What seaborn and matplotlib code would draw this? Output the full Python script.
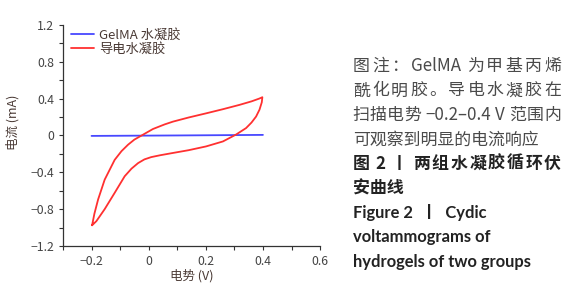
import matplotlib
matplotlib.use("Agg")
import matplotlib.pyplot as plt
import seaborn as sns
import pandas as pd
from matplotlib.ticker import MultipleLocator, FuncFormatter

# blue: GelMA hydrogel, flat line
gel_x = [-0.2, 0.1, 0.4]
gel_y = [-0.005, 0.0, 0.006]

# red: conductive hydrogel CV loop (forward branch, then back)
cond_x = [-0.198, -0.19, -0.177, -0.154, -0.119, -0.095, -0.072, -0.05, -0.02, 0.015,
          0.056, 0.085, 0.14, 0.201, 0.26, 0.318, 0.36, 0.387, 0.398,
          0.396, 0.388, 0.376, 0.36, 0.341, 0.306, 0.26, 0.201, 0.14, 0.085, 0.04,
          0.009, -0.015, -0.037, -0.06, -0.084, -0.119, -0.154, -0.183, -0.198]
cond_y = [-0.975, -0.85, -0.695, -0.48, -0.265, -0.17, -0.10, -0.045, 0.008, 0.07,
          0.12, 0.15, 0.195, 0.24, 0.285, 0.332, 0.37, 0.40, 0.415,
          0.36, 0.28, 0.205, 0.14, 0.08, 0.01, -0.065, -0.119, -0.16, -0.19, -0.215,
          -0.235, -0.26, -0.30, -0.36, -0.443, -0.623, -0.80, -0.93, -0.975]

labels = ["GelMA 水凝胶", "导电水凝胶"]
colors = ["#4848ff", "#ff3030"]

# caption lines: text, weight, justified?
caption = [
    ("图注：GelMA 为甲基丙烯", "normal", True),
    ("酰化明胶。导电水凝胶在", "normal", True),
    ("扫描电势 −0.2–0.4 V 范围内", "normal", True),
    ("可观察到明显的电流响应", "normal", False),
    ("图 2 丨 两组水凝胶循环伏", "bold", True),
    ("安曲线", "bold", False),
    ("Figure 2  丨  Cydic", "bold", False),
    ("voltammograms of", "bold", False),
    ("hydrogels of two groups", "bold", False),
]

sns.set_style("ticks")
plt.rcParams['font.family'] = ['Noto Sans CJK SC', 'DejaVu Sans']
plt.rcParams['axes.unicode_minus'] = True

df = pd.concat([
    pd.DataFrame({"x": gel_x, "y": gel_y, "s": labels[0]}),
    pd.DataFrame({"x": cond_x, "y": cond_y, "s": labels[1]}),
])

fig = plt.figure(figsize=(5.83, 3.0), dpi=100)
ax = fig.add_axes([0.108, 0.18, 0.441, 0.737])
sns.lineplot(data=df, x="x", y="y", hue="s", palette=colors, sort=False,
             estimator=None, linewidth=1.3, ax=ax)

ax.set_xlim(-0.3, 0.6)
ax.set_ylim(-1.2, 1.2)
ax.xaxis.set_major_locator(MultipleLocator(0.2))
ax.xaxis.set_minor_locator(MultipleLocator(0.1))
ax.yaxis.set_major_locator(MultipleLocator(0.4))
ax.yaxis.set_minor_locator(MultipleLocator(0.2))


def fmt(v, pos):
    if abs(v) < 1e-9:
        return "0"
    return f"{v:.1f}".replace("-", "−")


ax.xaxis.set_major_formatter(FuncFormatter(fmt))
ax.yaxis.set_major_formatter(FuncFormatter(fmt))
ax.tick_params(which="both", direction="out", length=3, width=0.8, colors="#333333",
               labelsize=8.8, labelcolor="#444444")
for s in ["top", "right"]:
    ax.spines[s].set_visible(False)
for s in ["left", "bottom"]:
    ax.spines[s].set_color("#333333")
    ax.spines[s].set_linewidth(0.9)

ax.set_xlabel("电势 (V)", fontsize=9, color="#4a3a35", labelpad=1)
ax.set_ylabel("电流 (mA)", fontsize=9, color="#4a3a35")
ax.yaxis.set_label_coords(-0.17, 0.56)

leg = ax.legend(loc="upper left", bbox_to_anchor=(0.0, 1.02), frameon=False,
                fontsize=9.5, handlelength=1.75, handletextpad=0.4,
                labelspacing=0.1, borderaxespad=0.2)
for t in leg.get_texts():
    t.set_color("#4a3a35")

# caption block, CJK lines justified to the same right edge
renderer = fig.canvas.get_renderer()
x_left, x_right = 0.605, 0.962
y0 = 0.78
step = 0.0815
cap_size = 12.2


def tokens(s):
    # (token, has_space_before)
    out, buf, sp = [], "", False
    for ch in s:
        if ch == " ":
            if buf:
                out.append((buf, sp))
                buf = ""
            sp = True
        elif ord(ch) > 0x2e80:
            if buf:
                out.append((buf, sp))
                buf, sp = "", False
            out.append((ch, sp))
            sp = False
        else:
            buf += ch
    if buf:
        out.append((buf, sp))
    return out


for i, (line, w, just) in enumerate(caption):
    col = "#4a4a4a" if w == "normal" else "#222222"
    y = y0 - i * step
    if w == "bold" and not any(ord(c) > 0x2e80 for c in line.replace("丨", "")):
        fam = ['Lato', 'Noto Sans CJK SC']
        fig.text(x_left, y, line, fontsize=11.9, fontweight=w, color=col,
                 va="center", ha="left", family=fam)
        continue
    if not just:
        fig.text(x_left, y, line, fontsize=cap_size, fontweight=w, color=col,
                 va="center", ha="left")
        continue
    toks = tokens(line)
    arts = [fig.text(0, y, t, fontsize=cap_size, fontweight=w, color=col,
                     va="center", ha="left") for t, _ in toks]
    widths = [a.get_window_extent(renderer).width / fig.bbox.width for a in arts]
    sp_w = 0.22 * cap_size / 72 * 100 / fig.bbox.width
    n_sp = sum(1 for _, s in toks if s)
    gap = (x_right - x_left - sum(widths) - n_sp * sp_w) / (len(toks) - 1)
    x = x_left
    for (t, s), a, wd in zip(toks, arts, widths):
        if s:
            x += sp_w
        a.set_x(x)
        x += wd + gap

fig.savefig("out.png", dpi=100)
